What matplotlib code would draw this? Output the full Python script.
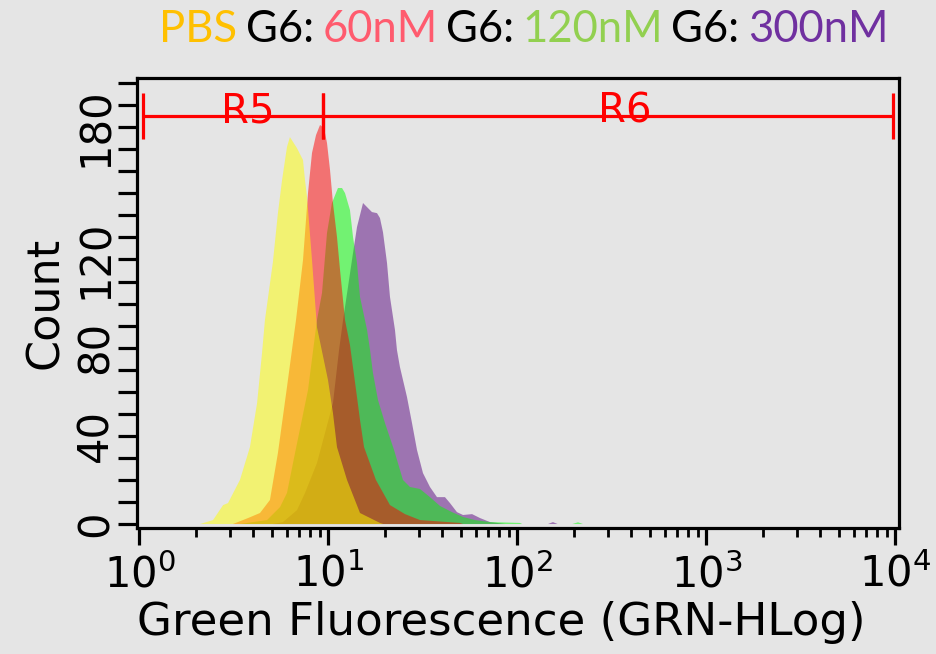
import matplotlib
matplotlib.use("Agg")
import matplotlib.pyplot as plt
import numpy as np
from matplotlib.offsetbox import TextArea, HPacker, AnchoredOffsetbox
from matplotlib.ticker import FixedLocator, LogLocator, NullFormatter

plt.rcParams['font.family'] = ['DejaVu Sans']
plt.rcParams['mathtext.default'] = 'regular'

# ---------------- data ----------------
pbs_x = [2.09, 2.45, 2.77, 2.94, 3.40, 3.84, 4.19, 4.45, 4.61, 5.08, 5.40, 5.68, 6.03, 6.25,
         6.81, 7.33, 7.51, 7.70, 8.18, 8.69, 9.94, 10.56, 11.09, 12.53, 14.68, 18.72, 19.5]
pbs_y = [0, 1.8, 8.6, 9.5, 20.0, 34.9, 54.9, 77.6, 92.5, 118.8, 141.0, 156.0, 171.0, 175.5,
         170.5, 165.1, 156.0, 148.3, 119.7, 89.3, 65.3, 50.3, 34.9, 20.0, 5.0, 0.5, 0]

g60_x = [3.12, 3.75, 4.34, 4.90, 5.40, 6.03, 6.73, 7.33, 7.79, 8.18, 8.59, 9.02, 9.47, 9.82,
         10.19, 10.56, 11.09, 11.51, 12.23, 12.99, 13.99, 14.68, 15.42, 17.82, 21.15, 25.4,
         30.49, 49.6, 51.5]
g60_y = [0, 2.7, 5.0, 10.9, 32.2, 62.1, 92.5, 119.7, 150.1, 168.3, 176.4, 181.0, 179.6, 172.8,
         160.5, 145.6, 130.2, 115.2, 92.5, 81.2, 60.8, 47.2, 34.9, 20.0, 8.6, 4.5,
         1.8, 0.5, 0]

g120_x = [3.40, 3.99, 4.73, 5.54, 6.03, 6.65, 7.79, 8.69, 9.24, 9.82, 10.43, 11.22, 11.79,
          12.23, 12.99, 13.48, 14.15, 14.68, 16.00, 16.59, 17.19, 18.28, 19.90, 22.22, 24.77,
          26.98, 30.49, 34.43, 38.90, 45.02, 51.5, 59.6, 71.5, 103, 106, 195, 209, 222]
g120_y = [0, 0.9, 1.8, 7.7, 14.1, 32.2, 60.8, 92.5, 104.8, 132.0, 145.6, 152.4, 152.4,
          150.1, 142.4, 130.2, 118.4, 103.0, 88.0, 78.9, 68.5, 56.2, 45.8, 33.6, 20.0,
          16.8, 15.9, 12.2, 8.2, 5.4, 3.2, 1.8, 0.9, 0.5, 0, 0, 0.8, 0]

g300_x = [5.08, 5.74, 6.81, 7.51, 8.69, 10.56, 11.37, 11.94, 12.68, 13.48, 14.15, 15.23,
          16.18, 16.98, 18.06, 18.72, 19.42, 20.40, 21.15, 22.48, 23.03, 23.88, 26.02, 27.66,
          29.39, 31.62, 34.43, 37.50, 41.33, 43.94, 47.83, 51.5, 57.5, 63.4, 71.5, 77.9, 85.9,
          145, 154, 163]
g300_y = [0, 0.9, 6.3, 14.1, 27.7, 54.9, 78.9, 92.5, 107.5, 122.9, 134.7, 145.6,
          143.3, 141.5, 141.0, 138.8, 132.4, 118.4, 103.0, 88.0, 78.9, 71.2, 57.6, 45.8,
          33.6, 23.1, 16.8, 12.2, 12.2, 9.5, 5.4, 4.1, 4.5, 2.7, 0.9, 0.5, 0,
          0, 0.9, 0]

# gates
gate_level = 185
r5_range = [1.04, 9.31]
r6_range = [9.31, 9700]
gate_names = ["R5", "R6"]

y_ticks = list(range(0, 201, 10))
y_labels_at = [0, 40, 80, 120, 180]
x_decades = [0, 1, 2, 3, 4]

legend_parts = [("PBS", "#FFC000"), ("G6:", "black"), ("60nM", "#FF5B6E"),
                ("G6:", "black"), ("120nM", "#92D050"), ("G6:", "black"),
                ("300nM", "#7030A0")]

# ---------------- figure ----------------
bg = "#E5E5E5"
fig = plt.figure(figsize=(9.37, 6.54), dpi=100, facecolor=bg)
ax = fig.add_axes([0.14621, 0.19266, 0.81323, 0.68807], facecolor=bg)
ax.set_xscale('log')

series = [(g300_x, g300_y, "#57057F"), (g120_x, g120_y, "#00FF00"),
          (g60_x, g60_y, "#FF0000"), (pbs_x, pbs_y, "#FFFF00")]
for xs, ys, c in series:
    ax.fill_between(xs, 0, ys, facecolor=c, alpha=0.5, linewidth=0)

# gates
lw = 2.3
for (a, b), name in zip([r5_range, r6_range], gate_names):
    ax.plot([a, b], [gate_level, gate_level], color="#FF0000", lw=lw, solid_capstyle='butt')
    for xv in (a, b):
        ax.plot([xv, xv], [gate_level - 10.3, gate_level + 10.3], color="#FF0000", lw=lw,
                solid_capstyle='butt')
ax.text(3.75, gate_level + 2, gate_names[0], color="#FF0000", fontsize=29,
        ha='center', va='center')
ax.text(368, gate_level + 2, gate_names[1], color="#FF0000", fontsize=29,
        ha='center', va='center')

ax.set_xlim(10 ** -0.0132, 10 ** 4.0185)
ax.set_ylim(-1.8, 202.3)

for s in ax.spines.values():
    s.set_linewidth(2.3)
    s.set_color('black')

ax.xaxis.set_major_locator(FixedLocator([10.0 ** k for k in x_decades]))
ax.set_xticklabels([r"$10^{%d}$" % k for k in x_decades])
ax.xaxis.set_minor_locator(LogLocator(base=10, subs=np.arange(2, 10)))
ax.xaxis.set_minor_formatter(NullFormatter())
ax.tick_params(axis='x', which='major', length=12.5, width=2.3, labelsize=30, pad=6)
ax.tick_params(axis='x', which='minor', length=6.5, width=2.0)

ax.set_yticks(y_ticks)
ax.set_yticklabels([str(v) if v in y_labels_at else "" for v in y_ticks])
ax.tick_params(axis='y', which='major', length=13.5, width=2.3, labelsize=30,
               labelrotation=90, pad=1)
for lab in ax.get_yticklabels():
    lab.set_va('center')

ax.set_xlabel("Green Fluorescence (GRN-HLog)", fontsize=32.5)
ax.xaxis.set_label_coords(0.478, -0.163)
ax.set_ylabel("Count", fontsize=32, labelpad=6)

# title legend
boxes = [TextArea(t, textprops=dict(color=c, fontsize=31.4, family='Lato'))
         for t, c in legend_parts]
pack = HPacker(children=boxes, align='baseline', pad=0, sep=6)
ab = AnchoredOffsetbox(loc='center', child=pack, frameon=False,
                       bbox_to_anchor=(0.559, 0.955), bbox_transform=fig.transFigure,
                       borderpad=0, pad=0)
fig.add_artist(ab)

fig.savefig("out.png", dpi=100, facecolor=bg)
